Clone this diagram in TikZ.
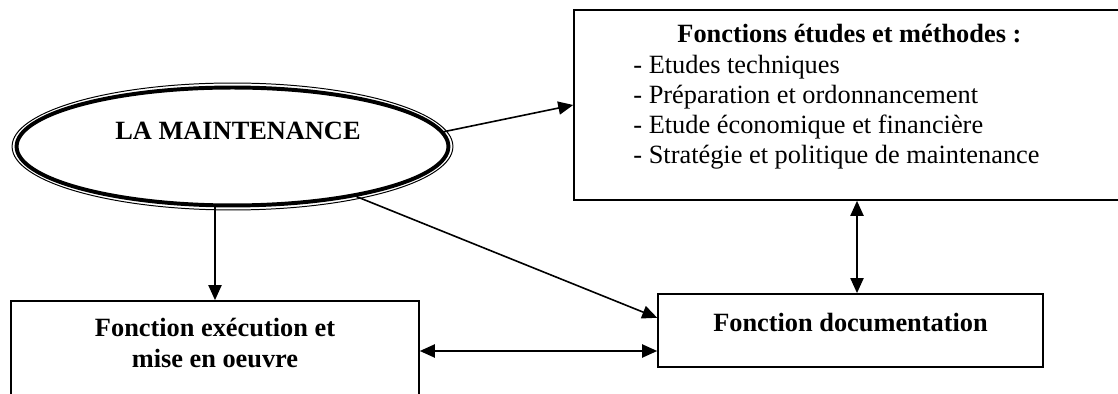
\documentclass[tikz,border=0pt]{standalone}
\usepackage{fontspec}
\setmainfont{Liberation Serif}
\usetikzlibrary{arrows.meta,shapes.geometric,calc}

\tikzset{
  every node/.style={font=\fontsize{12}{13.8}\selectfont},
  box/.style={draw, rectangle, line width=0.8pt, inner sep=0pt},
  txtup/.style={align=center, text depth=7.4pt},
  arr/.style={line width=0.73pt, -{Triangle[length=0.24cm, width=0.21cm]}},
  darr/.style={line width=0.73pt, {Triangle[length=0.24cm, width=0.21cm]}-{Triangle[length=0.24cm, width=0.21cm]}},
}

\begin{document}
\begin{tikzpicture}[x=0.016cm, y=-0.016cm]

    % page frame, 1 unit = 1 pixel of the sketch
    \useasboundingbox (0,0) rectangle (1118,394);

    % the central ellipse (thick line with a thin outer ring)
    \node[ellipse, draw, line width=1.8pt, minimum width=6.912cm, minimum height=1.888cm, inner sep=0pt] (maint) at (232.5,146.5) {};
    \draw[line width=0.45pt] (maint.center) ellipse [x radius=3.528cm, y radius=1.016cm];
    \node[font=\fontsize{12}{13.8}\selectfont\bfseries] (maintlbl) at (238,131) {LA MAINTENANCE};

    % studies and methods
    \node[box, minimum width=9.056cm, minimum height=3.04cm] (etudes) at (857,105) {};
    \node[anchor=north west, align=left, inner sep=0pt] (etudestxt) at (633,24) {%
        \hspace*{0.704cm}\textbf{Fonctions études et méthodes :}\\
        - Etudes techniques\\
        - Préparation et ordonnancement\\
        - Etude économique et financière\\
        - Stratégie et politique de maintenance};

    % documentation and execution boxes
    \node[box, txtup, minimum width=6.16cm, minimum height=1.168cm] (doc) at (850.5,330.5) {\textbf{Fonction documentation}};
    \node[box, txtup, minimum width=6.528cm, minimum height=1.6cm] (exec) at (215,351) {\textbf{Fonction exécution et}\\ \textbf{mise en oeuvre}};

    % links
    \draw[arr] (maint.4) -- (etudes.west);
    \draw[arr] (maint.-22) -- ($(doc.north west)!.33!(doc.south west)$);
    \draw[arr] (maint.south -| exec.north) -- (exec.north);
    \draw[darr] (exec.east) -- (exec.east -| doc.west);
    \draw[darr] (etudes.south) -- (etudes.south |- doc.north);

\end{tikzpicture}
\end{document}
